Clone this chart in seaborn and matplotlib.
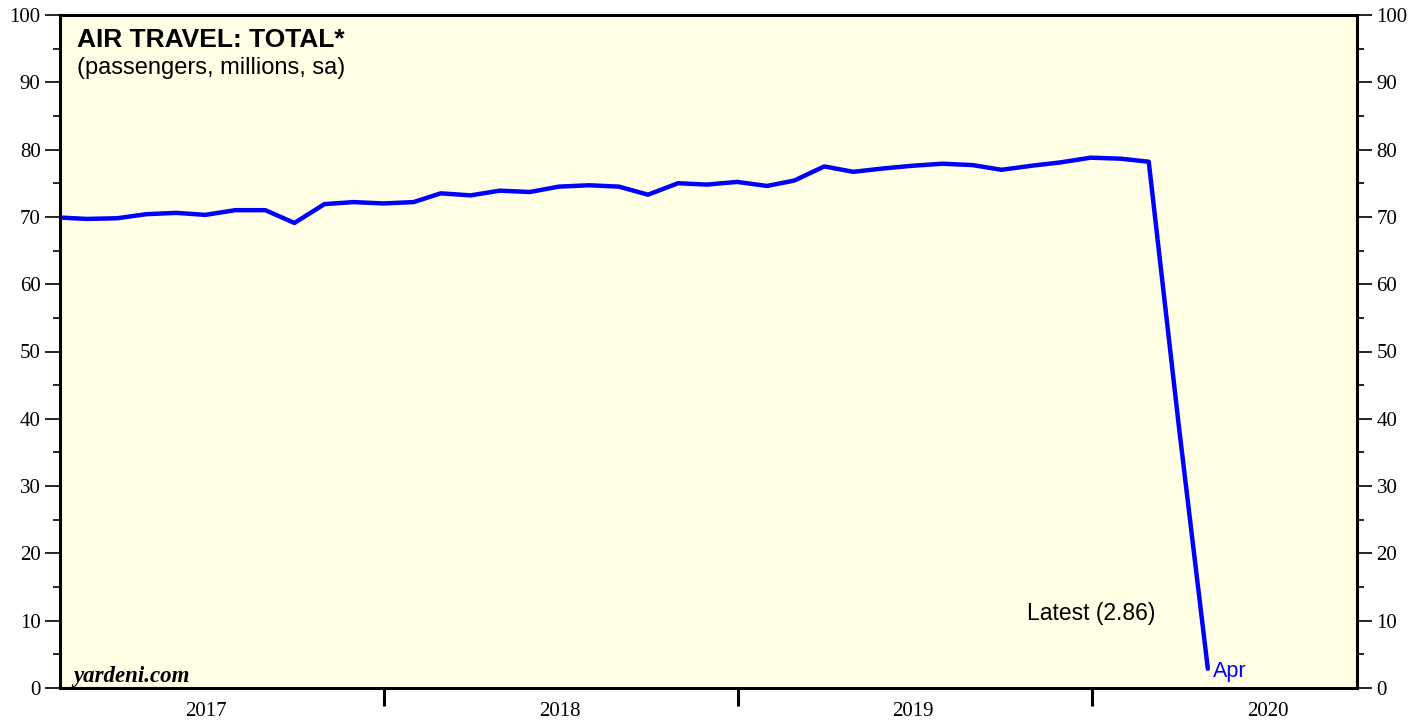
import pandas as pd
import seaborn as sns
import matplotlib.pyplot as plt
import matplotlib.dates as mdates
from matplotlib.ticker import MultipleLocator, NullFormatter

# monthly air passengers, millions, sa (Jan 2017 - Apr 2020)
start_month = '2017-01-31'
passengers = [69.9, 69.7, 69.8, 70.4, 70.6, 70.3, 71.0, 71.0, 69.1, 71.9, 72.2, 72.0,
              72.2, 73.5, 73.2, 73.9, 73.7, 74.5, 74.7, 74.5, 73.3, 75.0, 74.8, 75.2,
              74.6, 75.4, 77.5, 76.7, 77.2, 77.6, 77.9, 77.7, 77.0, 77.6, 78.1, 78.8,
              78.65, 78.2, 39.0, 2.86]
year_labels = ['2017', '2018', '2019', '2020']
latest_month = 'Apr'

months = pd.date_range(start_month, periods=len(passengers), freq='ME')
df = pd.DataFrame({'month': months, 'passengers': passengers})

sns.set_theme(style='white')
plt.rcParams['font.family'] = ['Liberation Sans', 'DejaVu Sans']
plt.rcParams['text.color'] = 'black'

fig = plt.figure(figsize=(14.27, 7.21), dpi=100)
ax = fig.add_axes([60 / 1427, 1 - 688 / 721, 1297 / 1427, 673 / 721])
ax.set_facecolor('#ffffe6')

sns.lineplot(data=df, x='month', y='passengers', color='#0000ff', linewidth=3.2, ax=ax)

ax.set_xlim(pd.Timestamp('2017-01-31'), pd.Timestamp('2020-10-01'))
ax.set_ylim(0, 100)
ax.set_xlabel('')
ax.set_ylabel('')

# y axis on both sides
ax.yaxis.set_major_locator(MultipleLocator(10))
ax.yaxis.set_minor_locator(MultipleLocator(5))
ax.tick_params(axis='y', which='both', left=True, right=True, labelleft=True, labelright=True,
               direction='out', labelsize=15, pad=3, colors='black', labelcolor='black')
ax.tick_params(axis='y', which='major', length=11, width=1.2)
ax.tick_params(axis='y', which='minor', length=5, width=1.2)
for lab in ax.get_yticklabels():
    lab.set_fontfamily('Liberation Serif')

# x axis: ticks at year breaks, labels at mid-year
ax.xaxis.set_major_locator(mdates.YearLocator())
ax.xaxis.set_major_formatter(NullFormatter())
mid_years = [pd.Timestamp(f'{y}-07-01') for y in year_labels]
ax.set_xticks(mid_years, minor=True)
ax.set_xticklabels(year_labels, minor=True, fontfamily='Liberation Serif', fontsize=15)
ax.tick_params(axis='x', which='major', bottom=True, direction='out', length=13, width=2.2,
               colors='black')
ax.tick_params(axis='x', which='minor', bottom=True, length=0, pad=10, labelcolor='black')

for s in ax.spines.values():
    s.set_linewidth(2.2)
    s.set_color('black')

ax.text(0.013, 0.953, 'AIR TRAVEL: TOTAL*', transform=ax.transAxes, fontsize=19,
        fontweight='bold', va='baseline')
ax.text(0.013, 0.912, '(passengers, millions, sa)', transform=ax.transAxes, fontsize=17,
        va='baseline')
ax.text(0.01, 0.009, 'yardeni.com', transform=ax.transAxes, fontsize=16.5,
        fontweight='bold', fontstyle='italic', fontfamily='Liberation Serif', va='baseline')
ax.text(0.7456, 0.101, f'Latest ({passengers[-1]})', transform=ax.transAxes, fontsize=16.5,
        va='baseline')
ax.annotate(latest_month, xy=(months[-1], passengers[-1]), xytext=(4, -2),
            textcoords='offset points', color='#0000ff', fontsize=15.5, va='center')

fig.savefig('out.png', dpi=100, facecolor='white')
